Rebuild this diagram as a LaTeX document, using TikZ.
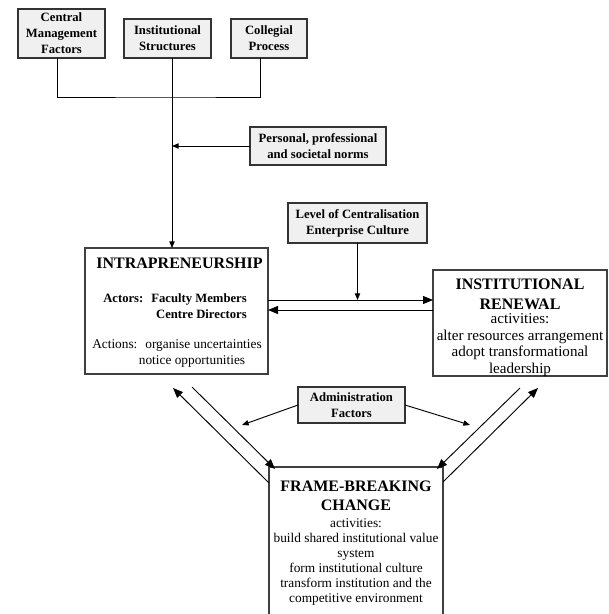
\documentclass[tikz,border=0pt]{standalone}
\usepackage{fontspec}
\setmainfont{Liberation Serif}
\usetikzlibrary{arrows.meta,calc}

\begin{document}
\begin{tikzpicture}[x=0.75pt,y=-0.75pt,
  boxsize/.style 2 args={minimum width=#1*0.75pt, minimum height=#2*0.75pt},
  factor/.style={draw=black!80, line width=1pt, fill=gray!12, inner sep=0pt,
    outer sep=0pt, align=center, font=\fontsize{9.5}{12}\selectfont\bfseries},
  panel/.style={draw=black!75, line width=1pt, fill=white, inner sep=0pt, outer sep=0pt},
  link/.style={line width=0.7pt, black},
  tip/.style={-{Triangle[length=5pt,width=4pt]}},
  bigtip/.style={-{Triangle[length=7.5pt,width=6pt]}},
  head/.style={font=\fontsize{12}{15}\selectfont\bfseries, inner sep=0pt},
  actor/.style={font=\fontsize{9.5}{12}\selectfont\bfseries, inner sep=0pt},
  smalltxt/.style={font=\fontsize{10}{11.25}\selectfont, inner sep=0pt},
  bodytxt/.style={font=\fontsize{11.3}{12.5}\selectfont, inner sep=0pt},
]
\useasboundingbox (0,0) rectangle (608,614);
\clip (0,0) rectangle (608,614);

% influencing factors
\node[factor, boxsize={87}{49}] (cmf) at (61.5,33.5) {Central\\Management\\Factors};
\node[factor, boxsize={87}{39}] (ist) at (167.5,38.5) {Institutional\\Structures};
\node[factor, boxsize={76}{39}] (cp) at (269,38.5) {Collegial\\Process};
\node[factor, boxsize={136}{38}] (pn) at (318,146) {Personal, professional\\and societal norms};
\node[factor, boxsize={139}{40}] (lv) at (357.5,223) {Level of Centralisation\\Enterprise Culture};
\node[factor, boxsize={107}{36}] (ad) at (351.5,405) {Administration\\Factors};

% main panels
\node[panel, boxsize={183}{126}] (intra) at (176.5,311) {};
\node[panel, boxsize={174}{106}] (renew) at (520,323) {};
\node[panel, boxsize={174}{180}] (frame) at (356,557) {};

% intrapreneurship text
\node[head, anchor=base] (intraT) at (179.5,268) {INTRAPRENEURSHIP};
\node[actor, anchor=base west] (actL) at (103,302) {Actors:};
\node[actor, anchor=base east] (actA) at (247,302) {Faculty Members};
\node[actor, anchor=base east] (actB) at (247,318) {Centre Directors};
\node[smalltxt, anchor=base west] (acnL) at (92,348) {Actions:};
\node[smalltxt, anchor=base east] (acnA) at (262,348) {organise uncertainties};
\node[smalltxt, anchor=base] (acnB) at (192,364) {notice opportunities};

% institutional renewal text
\node[head, anchor=base] (renT1) at (520,289) {INSTITUTIONAL};
\node[head, anchor=base] (renT2) at (520,309) {RENEWAL};
\node[bodytxt, anchor=base] (renB1) at (520,323) {activities:};
\node[bodytxt, anchor=base] (renB2) at (520,340) {alter resources arrangement};
\node[bodytxt, anchor=base] (renB3) at (520,356.5) {adopt transformational};
\node[bodytxt, anchor=base] (renB4) at (520,373) {leadership};

% frame-breaking change text
\node[head, anchor=base] (frT1) at (356,491) {FRAME-BREAKING};
\node[head, anchor=base] (frT2) at (356,510) {CHANGE};
\node[smalltxt, anchor=base] (frB1) at (356,527) {activities:};
\node[smalltxt, anchor=base] (frB2) at (356,542) {build shared institutional value};
\node[smalltxt, anchor=base] (frB3) at (356,557) {system};
\node[smalltxt, anchor=base] (frB4) at (356,572) {form institutional culture};
\node[smalltxt, anchor=base] (frB5) at (356,587) {transform institution and the};
\node[smalltxt, anchor=base] (frB6) at (356,602) {competitive environment};

% connector anchor points
\coordinate (trunk) at (172,97);
\coordinate (hu) at (0,300);
\coordinate (hl) at (0,310);
\coordinate (adl) at (242,425);
\coordinate (adr) at (470,425);
\coordinate (dl1) at (173,388);
\coordinate (dl2) at (192,387);
\coordinate (dr1) at (520,388);
\coordinate (dr2) at (538,388);

% collecting bus and trunk into intrapreneurship
\draw[link] ($(cmf.south)+(-4.5,0)$) |- (trunk) -| ($(cp.south)+(-9,0)$);
\draw[link,tip] (trunk |- ist.south) -- (trunk |- intra.north);
\draw[link,tip] (pn.west) -- (pn.west -| trunk);

% intrapreneurship <-> renewal
\draw[link,tip] (lv.south) -- (lv.south |- hu);
\draw[link,bigtip] (intra.east |- hu) -- (renew.west |- hu);
\draw[link,bigtip] (renew.west |- hl) -- (intra.east |- hl);

% administration factors
\draw[link,tip] (ad.west) -- (adl);
\draw[link,tip] (ad.east) -- (adr);

% diagonal links with frame-breaking change
\draw[link,bigtip] ($(frame.north west)+(0,16)$) -- (dl1);
\draw[link,bigtip] (dl2) -- ($(frame.north west)+(6,2)$);
\draw[link,bigtip] (dr1) -- ($(frame.north east)+(-6,2)$);
\draw[link,bigtip] ($(frame.north east)+(0,15)$) -- (dr2);
\end{tikzpicture}
\end{document}
